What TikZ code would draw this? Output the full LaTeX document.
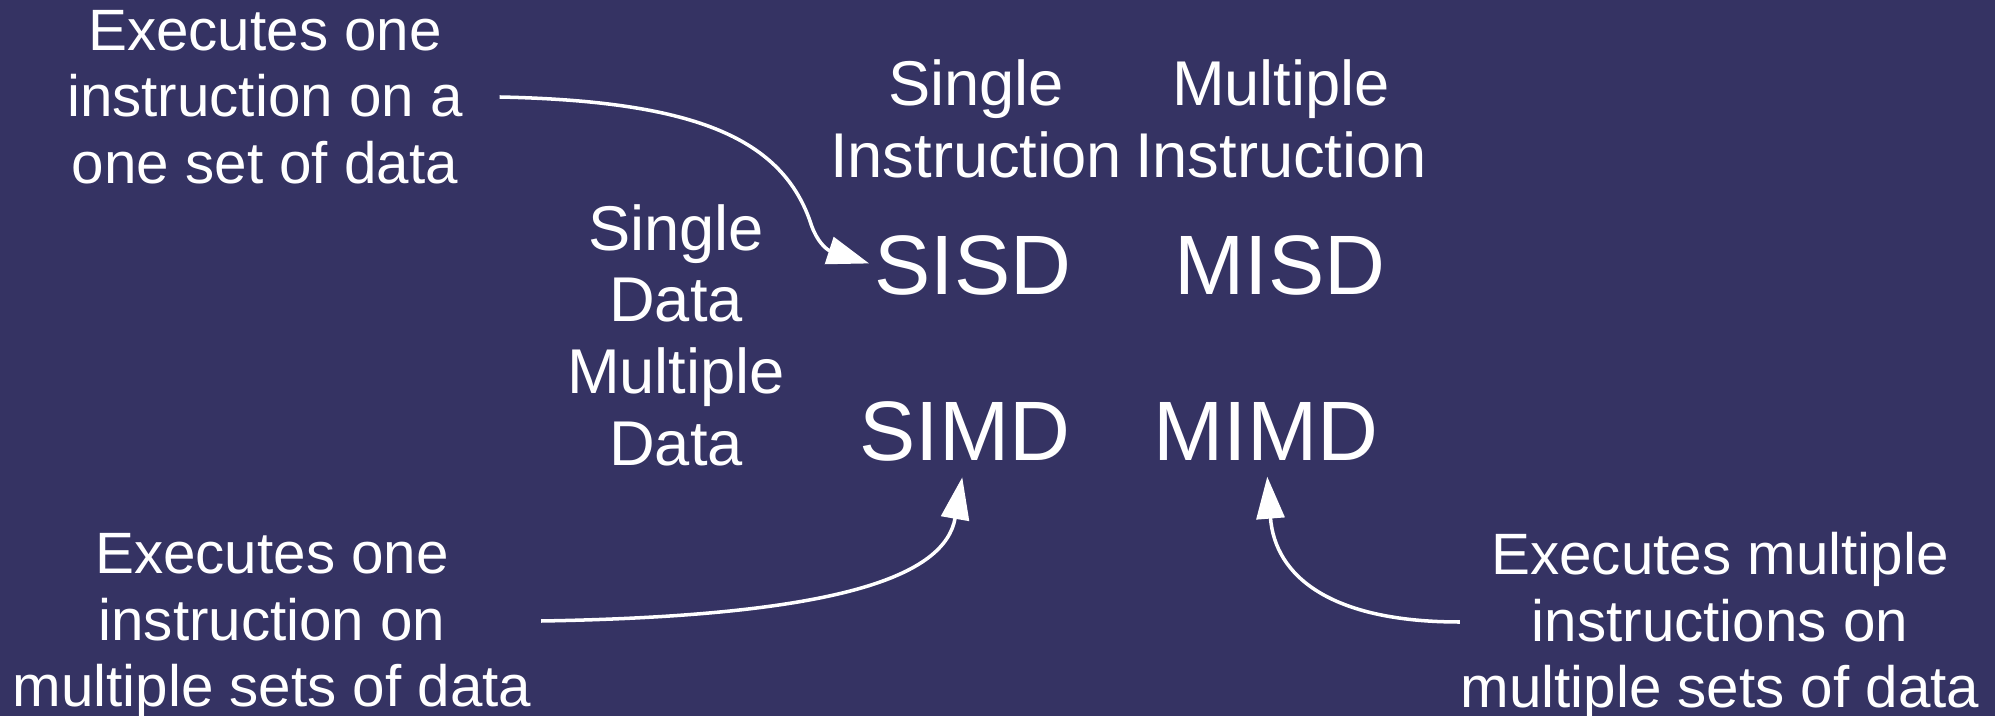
\documentclass[tikz,border=0pt]{standalone}
\usepackage{fontspec}
\setmainfont{Liberation Sans}
\usetikzlibrary{arrows.meta}

\definecolor{bgblue}{RGB}{53,51,99}

\begin{document}
\begin{tikzpicture}[
  note/.style={text=white, align=center, inner sep=0pt,
               font=\fontsize{16.6}{18.9}\selectfont},
  head/.style={text=white, align=center, inner sep=0pt,
               font=\fontsize{18}{20.4}\selectfont},
  kind/.style={text=white, inner sep=0pt, font=\fontsize{24}{28}\selectfont},
  arr/.style={-{Triangle[length=0.42cm, width=0.28cm]}, white, line width=1pt}
]
  \useasboundingbox (0,0) rectangle (19.95,7.16);
  \fill[bgblue] (0,0) rectangle (19.95,7.16);

  % column and row headings
  \node[head] (si)   at (9.76,5.97)  {Single\\Instruction};
  \node[head] (mi)   at (12.81,5.97) {Multiple\\Instruction};
  \node[head] (sdmd) at (6.76,3.81)  {Single\\Data\\Multiple\\Data};

  % the four classes
  \node[kind] (sisd) at (9.73,4.51)  {SISD};
  \node[kind] (misd) at (12.80,4.51) {MISD};
  \node[kind] (simd) at (9.65,2.85)  {SIMD};
  \node[kind] (mimd) at (12.66,2.85) {MIMD};

  % explanations
  \node[note] (sisdtxt) at (2.65,6.19)  {Executes one\\instruction on a\\one set of data};
  \node[note] (simdtxt) at (2.72,0.90)  {Executes one\\instruction on\\multiple sets of data};
  \node[note] (mimdtxt) at (17.20,0.90) {Executes multiple\\instructions on\\multiple sets of data};

  \draw[arr, shorten >=0.05cm] ([xshift=0.36cm]sisdtxt.east)
    .. controls (6.9,6.15) and (7.8,5.8) .. (8.1,4.95)
    .. controls (8.2,4.62) and (8.4,4.62) .. (sisd.west);
  \draw[arr, shorten >=0.16cm] ([xshift=0.09cm, yshift=0.05cm]simdtxt.east)
    .. controls (8.4,1.0) and (9.45,1.4) .. (simd.south);
  \draw[arr, shorten >=0.16cm] ([yshift=0.04cm]mimdtxt.west)
    .. controls (13.3,0.94) and (12.75,1.4) .. (mimd.south);
\end{tikzpicture}
\end{document}
